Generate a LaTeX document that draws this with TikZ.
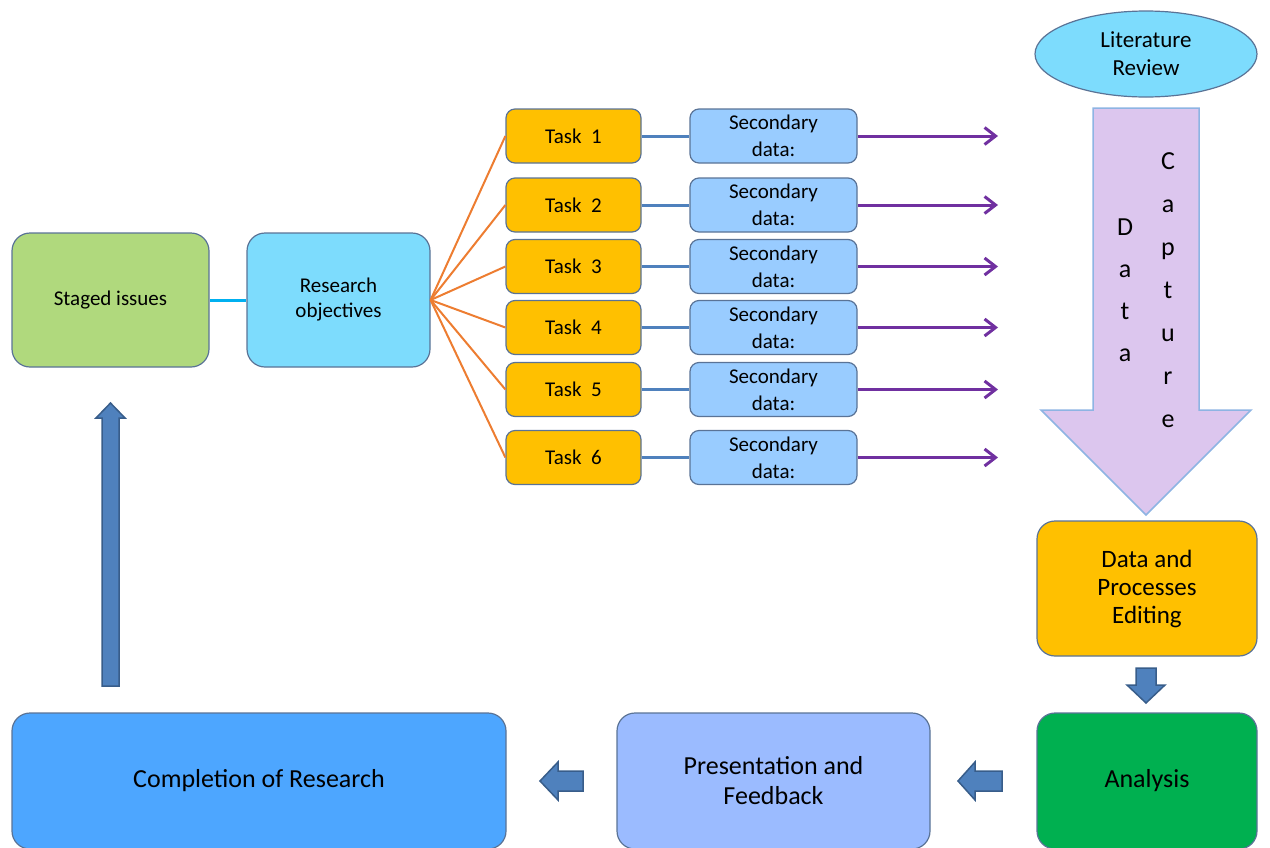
\documentclass[tikz,border=0pt]{standalone}
\usepackage{fontspec}
\setmainfont{Carlito}
\usetikzlibrary{arrows.meta,shapes.geometric}

\definecolor{boxline}{RGB}{90,115,150}
\definecolor{stagedfill}{RGB}{176,217,125}
\definecolor{objfill}{RGB}{125,220,253}
\definecolor{taskfill}{RGB}{255,192,0}
\definecolor{secfill}{RGB}{153,204,255}
\definecolor{fanline}{RGB}{237,125,49}
\definecolor{linkline}{RGB}{79,129,189}
\definecolor{feedline}{RGB}{112,48,160}
\definecolor{capfill}{RGB}{220,198,238}
\definecolor{capline}{RGB}{142,180,227}
\definecolor{anafill}{RGB}{0,176,80}
\definecolor{presfill}{RGB}{155,187,255}
\definecolor{compfill}{RGB}{77,166,255}
\definecolor{arrowfill}{RGB}{79,129,189}
\definecolor{arrowline}{RGB}{56,93,138}

\begin{document}
\begin{tikzpicture}[x=1pt,y=-1pt,
    box/.style={draw=boxline,line width=1.2pt,rounded corners=18pt,align=center,inner sep=0pt},
    taskbox/.style={box,fill=taskfill,rounded corners=9pt,minimum width=135pt,minimum height=54pt,font=\fontsize{21}{27}\selectfont},
    secbox/.style={box,fill=secfill,rounded corners=9pt,minimum width=167pt,minimum height=54pt,font=\fontsize{21}{27}\selectfont},
    bigbox/.style={box,minimum height=136pt,font=\fontsize{26}{30}\selectfont},
    blockarrow/.style={fill=arrowfill,draw=arrowline,line width=1.5pt,line join=miter}]
  \clip (0,0) rectangle (1270,847);

  % left part
  \node[box,fill=stagedfill,minimum width=197pt,minimum height=134pt,font=\fontsize{21}{25}\selectfont] (staged) at (110.5,300) {Staged issues};
  \node[box,fill=objfill,minimum width=183pt,minimum height=134pt,font=\fontsize{21}{25}\selectfont] (obj) at (338.5,300) {Research\\objectives};
  \draw[color={rgb,255:red,0;green,176;blue,240},line width=3pt] (staged) -- (obj);

  % tasks and secondary data
  \foreach \i/\y in {1/136,2/205,3/266.5,4/327.5,5/389.5,6/457.5} {
    \node[taskbox] (task\i) at (573.5,\y) {Task\ \ \i};
    \node[secbox] (sec\i) at (773.5,\y) {Secondary\\data:};
    \coordinate (end\i) at (998,\y);
    \draw[fanline,line width=2pt] (obj.east) -- (task\i.west);
    \draw[linkline,line width=3pt] (task\i) -- (sec\i);
    \draw[feedline,line width=3pt,-{Straight Barb[length=11pt,width=17pt]}] (sec\i) -- (end\i);
  }

  % literature review and data capture
  \node[ellipse,draw=boxline,line width=1.2pt,fill=objfill,minimum width=222pt,minimum height=86pt,inner sep=0pt,align=center,font=\fontsize{23}{28}\selectfont] (lit) at (1146,54) {Literature\\Review};
  \draw[fill=capfill,draw=capline,line width=1.5pt,line join=miter]
    (1093,108) -- (1199,108) -- (1199,410) -- (1251,410) -- (1146,515) -- (1041,410) -- (1093,410) -- cycle;
  \node[align=center,font=\fontsize{26}{42}\selectfont] (dword) at (1125,290) {D\\a\\t\\a};
  \node[align=center,font=\fontsize{26}{43}\selectfont] (cword) at (1168,290) {C\\a\\p\\t\\u\\r\\e};

  % processing chain
  \node[bigbox,fill=taskfill,minimum width=220pt,minimum height=135pt,font=\fontsize{25}{28}\selectfont] (edit) at (1147,588.5) {Data and\\Processes\\Editing};
  \node[bigbox,fill=anafill,minimum width=220pt] (ana) at (1147,781) {Analysis};
  \node[bigbox,fill=presfill,minimum width=313pt] (pres) at (773.5,781) {Presentation and\\Feedback};
  \node[bigbox,fill=compfill,minimum width=494pt] (comp) at (259,781) {Completion of Research};

  % block arrows
  \draw[blockarrow] (1136,668) -- (1156,668) -- (1156,685) -- (1165,685) -- (1146,703) -- (1127,685) -- (1136,685) -- cycle;
  \draw[blockarrow] (1002,771) -- (975,771) -- (975,762) -- (958,781) -- (975,800) -- (975,791) -- (1002,791) -- cycle;
  \draw[blockarrow] (583,771) -- (558,771) -- (558,762) -- (540,781) -- (558,800) -- (558,791) -- (583,791) -- cycle;
  \draw[blockarrow] (102,686) -- (102,418) -- (96,418) -- (110.5,403) -- (125,418) -- (119,418) -- (119,686) -- cycle;
\end{tikzpicture}
\end{document}
